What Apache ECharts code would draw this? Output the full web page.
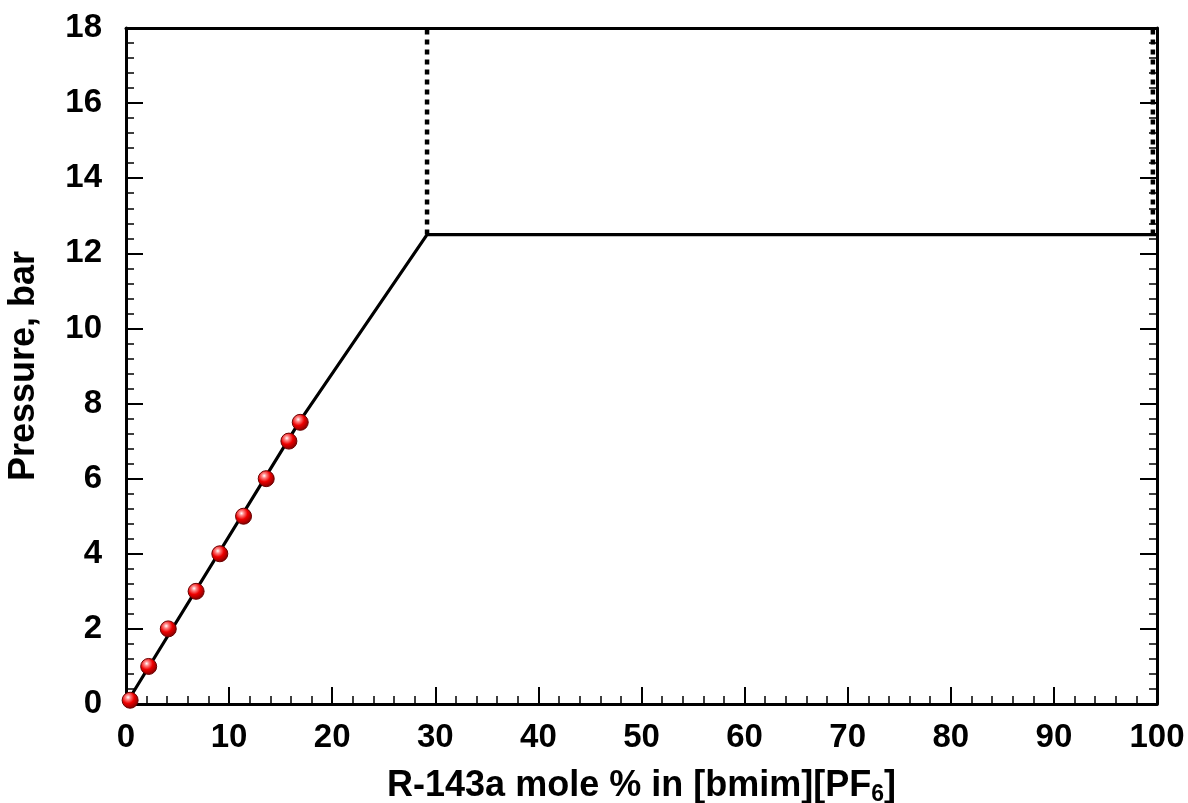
<!DOCTYPE html>
<html>
<head>
<meta charset="utf-8">
<script src="https://cdn.jsdelivr.net/npm/echarts@6/dist/echarts.min.js"></script>
<style>
  html, body { margin: 0; padding: 0; background: #fff; }
  #main { width: 1188px; height: 803px; }
</style>
</head>
<body>
<div id="main"></div>
<script>
  var myChart = echarts.init(document.getElementById('main'));

  // measured points (mole %, bar)
  var xPts = [0.4, 2.2, 4.1, 6.8, 9.1, 11.4, 13.6, 15.8, 16.9];
  var yPts = [0.1, 1.0, 2.0, 3.0, 4.0, 5.0, 6.0, 7.0, 7.5];

  // solid phase-boundary line
  var lineX = [0, 16.9, 29.2, 100];
  var lineY = [0, 7.55, 12.5, 12.5];

  // dotted vertical boundaries
  var dot1X = [29.2, 29.2];
  var dot2X = [99.6, 99.6];
  var dotY = [12.5, 18];

  function pairs(xs, ys) {
    var out = [];
    for (var i = 0; i < xs.length; i++) out.push([xs[i], ys[i]]);
    return out;
  }

  var font = 'Liberation Sans, Arial, sans-serif';

  var ball = new echarts.graphic.RadialGradient(0.38, 0.33, 0.65, [
    { offset: 0, color: '#ffffff' },
    { offset: 0.22, color: '#ff8080' },
    { offset: 0.55, color: '#ee0000' },
    { offset: 1, color: '#8a0000' }
  ]);

  var option = {
    backgroundColor: '#fff',
    animation: false,
    grid: { left: 126, right: 31, top: 28, bottom: 99, outerBoundsMode: 'none', containLabel: false },
    xAxis: [{
      type: 'value', min: 0, max: 100, interval: 10, position: 'bottom',
      name: '{t|R-143a mole % in [bmim][PF}{s|6}{t|]}',
      nameLocation: 'middle', nameGap: 62,
      nameTextStyle: {
        rich: {
          t: { fontFamily: font, fontWeight: 'bold', fontSize: 36, color: '#000' },
          s: { fontFamily: font, fontWeight: 'bold', fontSize: 23, color: '#000', padding: [17, 0, 0, 0] }
        }
      },
      axisLine: { lineStyle: { color: '#000', width: 3 } },
      axisTick: { inside: true, length: 17, lineStyle: { color: '#000', width: 2 } },
      minorTick: { show: true, splitNumber: 5, length: 8, lineStyle: { color: '#000', width: 1.5 } },
      axisLabel: { margin: 17, fontFamily: font, fontWeight: 'bold', fontSize: 33, color: '#000' },
      splitLine: { show: false }
    }, {
      type: 'value', min: 0, max: 100, position: 'top',
      axisLine: { onZero: false, lineStyle: { color: '#000', width: 3 } },
      axisTick: { show: false }, axisLabel: { show: false }, splitLine: { show: false }
    }],
    yAxis: [{
      type: 'value', min: 0, max: 18, interval: 2, position: 'left',
      name: 'Pressure, bar', nameLocation: 'middle', nameGap: 84,
      nameTextStyle: { fontFamily: font, fontWeight: 'bold', fontSize: 36, color: '#000' },
      axisLine: { lineStyle: { color: '#000', width: 3 } },
      axisTick: { inside: true, length: 17, lineStyle: { color: '#000', width: 2 } },
      minorTick: { show: true, splitNumber: 5, length: 8, lineStyle: { color: '#000', width: 1.5 } },
      axisLabel: { margin: 24, fontFamily: font, fontWeight: 'bold', fontSize: 33, color: '#000' },
      splitLine: { show: false }
    }, {
      type: 'value', min: 0, max: 18, interval: 2, position: 'right',
      axisLine: { onZero: false, lineStyle: { color: '#000', width: 3 } },
      axisTick: { inside: true, length: 17, lineStyle: { color: '#000', width: 2 } },
      minorTick: { show: true, splitNumber: 5, length: 8, lineStyle: { color: '#000', width: 1.5 } },
      axisLabel: { show: false }, splitLine: { show: false }
    }],
    series: [{
      type: 'line', data: pairs(lineX, lineY), showSymbol: false, symbol: 'none',
      lineStyle: { color: '#000', width: 3.2 }, z: 3
    }, {
      type: 'line', data: pairs(dot1X, dotY), symbol: 'none',
      lineStyle: { color: '#000', width: 4.5, type: [5, 5], cap: 'butt' }, z: 3
    }, {
      type: 'line', data: pairs(dot2X, dotY), symbol: 'none',
      lineStyle: { color: '#000', width: 4.5, type: [5, 5], cap: 'butt' }, z: 3
    }, {
      type: 'scatter', data: pairs(xPts, yPts), symbol: 'circle', symbolSize: 16,
      itemStyle: { color: ball, borderColor: '#6a0000', borderWidth: 1, opacity: 1 }, z: 5
    }]
  };

  myChart.setOption(option);
</script>
</body>
</html>
